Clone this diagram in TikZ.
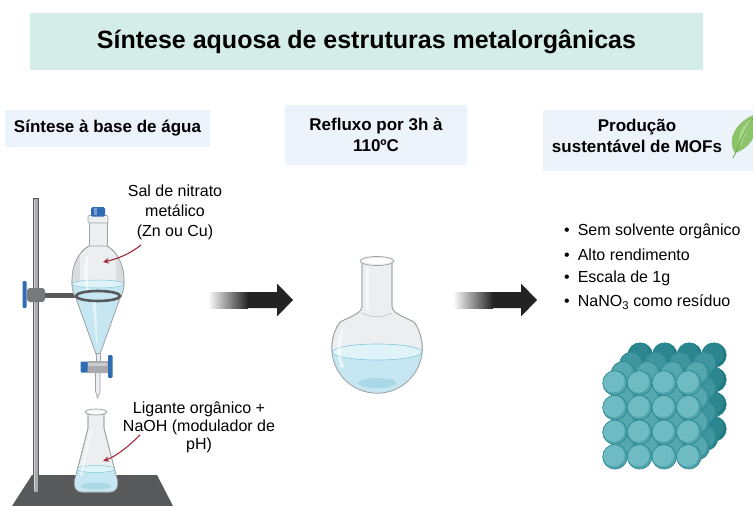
\documentclass[tikz,border=0pt]{standalone}
\usepackage{fontspec}
\setmainfont{Liberation Sans}
\usetikzlibrary{arrows.meta,calc}

\definecolor{titlebg}{HTML}{D5EDE9}
\definecolor{headbg}{HTML}{EDF3FB}
\definecolor{glass}{HTML}{ECEEF0}
\definecolor{glassdark}{HTML}{DADCDE}
\definecolor{glassline}{HTML}{9EA3A8}
\definecolor{liquid}{HTML}{C6E7F1}
\definecolor{liquidtop}{HTML}{E0F3F8}
\definecolor{liquidline}{HTML}{7CC8DD}
\definecolor{liquiddeep}{HTML}{A9D8E6}
\definecolor{capblue}{HTML}{2F6CB3}
\definecolor{steel}{HTML}{58595B}
\definecolor{steellight}{HTML}{77787B}
\definecolor{rodgray}{HTML}{A8AAAD}
\definecolor{pointer}{HTML}{A3293A}
\definecolor{arrowdark}{HTML}{232323}
\definecolor{leafgreen}{HTML}{8DC46B}
\definecolor{leafdark}{HTML}{6CA84D}
\definecolor{leaflight}{HTML}{A9D68A}
\definecolor{mofA}{HTML}{6FBBC3}
\definecolor{mofAd}{HTML}{4FA2AB}
\definecolor{mofB}{HTML}{55A8B0}
\definecolor{mofBd}{HTML}{3F949D}
\definecolor{mofC}{HTML}{3F969E}
\definecolor{mofCd}{HTML}{2C858E}
\definecolor{mofD}{HTML}{2C868F}
\definecolor{mofDd}{HTML}{207A83}
\definecolor{mofline}{HTML}{2A8890}

\begin{document}
\begin{tikzpicture}[x=1pt,y=-1pt,
  titlebox/.style={fill=titlebg, minimum width=673pt, minimum height=57pt, inner sep=0pt,
    font=\fontsize{25}{29}\selectfont\bfseries},
  headbox/.style={fill=headbg, inner sep=0pt},
  headtext/.style={align=center, inner sep=0pt, font=\fontsize{17}{21}\selectfont\bfseries},
  callout/.style={align=center, inner sep=0pt, font=\fontsize{16}{20}\selectfont},
  pointerarrow/.style={draw=pointer, line width=1.1pt, -{Stealth[length=6pt,width=5.5pt]}},
  bulletitem/.style={anchor=west, inner sep=0pt, font=\fontsize{16}{19}\selectfont},
  glassware/.style={fill=glass, draw=glassline, line width=0.7pt},
]
\useasboundingbox (0,0) rectangle (753,506);
\fill[white] (0,0) rectangle (753,506);

% ---------- title and stage headers ----------
\node[titlebox] (title) at (366.5,41.5) {Síntese aquosa de estruturas metalorgânicas};

\node[headbox, minimum width=205pt, minimum height=37pt] (head1) at (107.5,128) {};
\node[headtext] (head1text) at (head1.center) {Síntese à base de água};

\node[headbox, minimum width=182pt, minimum height=60pt] (head2) at (376,135) {};
\node[headtext] (head2text) at (head2.center) {Refluxo por 3h à\\110ºC};

\node[headbox, minimum width=210pt, minimum height=61pt] (head3) at (648,140.5) {};
\node[headtext] (head3text) at (637,136) {Produção\\sustentável de MOFs};

% leaf beside the third header
\begin{scope}
  \fill[leafgreen] (735,153) .. controls (726,140) and (736,121) .. (756,114)
                   .. controls (760,130) and (752,148) .. (735,153) -- cycle;
  \fill[leaflight] (741,146) .. controls (736,136) and (742,124) .. (754,118)
                   .. controls (748,128) and (744,137) .. (741,146) -- cycle;
  \draw[leafdark, line width=0.8pt] (733,158) -- (736,152) .. controls (741,140) and (746,128) .. (755,116);
\end{scope}

% ---------- stage 1: retort stand, separatory funnel, Erlenmeyer ----------
% base plate
\fill[steel] (32,475) -- (157,475) -- (173,506) -- (12,506) -- cycle;
% rod
\fill[rodgray] (33,198) rectangle (38.5,492);
\draw[gray!70!black, line width=0.4pt] (33,198) rectangle (38.5,492);
\fill[white, opacity=0.5] (34.2,200) rectangle (35.3,490);
% clamp arm and boss
\fill[steel] (40,293) rectangle (80,297.5);
\fill[steellight, rounded corners=3pt] (27,288) rectangle (45,302);
\fill[capblue, rounded corners=1.2pt] (22.5,281) rectangle (26.5,308);

% funnel neck, collar and stopper
\path[glassware] (89,222) rectangle (107,248);
\path[glassware, rounded corners=1pt] (88,215.5) rectangle (108,223);
\fill[capblue, rounded corners=1.5pt] (91,207) rectangle (105,216.5);
\fill[white, opacity=0.35] (94,208) rectangle (97,215);

% funnel bulb and cone
\path[glassware] (89,246) .. controls (78,252) and (72,266) .. (72,281)
     .. controls (72,289) and (73,293) .. (76,298) -- (96,354) -- (100,354) -- (120,298)
     .. controls (123,293) and (124,289) .. (124,281)
     .. controls (124,266) and (118,252) .. (107,246) -- cycle;
\begin{scope}
  \clip (89,246) .. controls (78,252) and (72,266) .. (72,281)
     .. controls (72,289) and (73,293) .. (76,298) -- (96,354) -- (100,354) -- (120,298)
     .. controls (123,293) and (124,289) .. (124,281)
     .. controls (124,266) and (118,252) .. (107,246) -- cycle;
  \fill[glassdark] (72,250) rectangle (80,300);
  \fill[glassdark] (116,250) rectangle (125,300);
  \fill[liquid] (60,284) rectangle (130,360);
  \fill[liquidtop] (98,284) ellipse (26 and 4);
  \draw[liquidline, line width=0.5pt] (98,284) ellipse (26 and 4);
  \fill[white, opacity=0.6] (86,256) .. controls (84,266) and (84,278) .. (86,290) -- (89,290)
        .. controls (87,278) and (87,266) .. (89,256) -- cycle;
  \fill[white, opacity=0.5] (92,300) -- (96,300) -- (97.5,345) -- (96.5,345) -- cycle;
\end{scope}
\draw[glassline, line width=0.7pt] (89,246) .. controls (78,252) and (72,266) .. (72,281)
     .. controls (72,289) and (73,293) .. (76,298) -- (96,354) -- (100,354) -- (120,298)
     .. controls (123,293) and (124,289) .. (124,281)
     .. controls (124,266) and (118,252) .. (107,246);

% clamp ring around the funnel
\draw[steel, line width=2.6pt] (98,296) ellipse (22 and 5);

% stopcock and outlet stem
\path[glassware] (96,353) rectangle (100,362);
\path[glassware] (95.5,372) -- (95.5,391) -- (97.5,398) -- (100,392) -- (100,372) -- cycle;
\fill[rodgray, rounded corners=1.5pt] (86,361) rectangle (109,373);
\fill[white, opacity=0.4] (88,363) rectangle (107,366);
\fill[capblue, rounded corners=1.2pt] (80.5,361.5) rectangle (87.5,372.5);
\fill[capblue, rounded corners=1.2pt] (108,355) rectangle (112.5,378);

% Erlenmeyer flask
\path[glassware] (88,412) -- (88,428) -- (75,479) .. controls (73,488) and (76,492) .. (83,492)
     -- (109,492) .. controls (116,492) and (119,488) .. (117,479) -- (104,428) -- (104,412) -- cycle;
\begin{scope}
  \clip (88,412) -- (88,428) -- (75,479) .. controls (73,488) and (76,492) .. (83,492)
     -- (109,492) .. controls (116,492) and (119,488) .. (117,479) -- (104,428) -- (104,412) -- cycle;
  \fill[liquid] (60,469) rectangle (130,500);
  \fill[liquidtop] (96,469) ellipse (19 and 3.5);
  \draw[liquidline, line width=0.5pt] (96,469) ellipse (19 and 3.5);
  \fill[liquiddeep] (96,486) ellipse (15 and 3.5);
  \fill[white, opacity=0.6] (90,430) -- (92,430) -- (82,476) -- (80,476) -- cycle;
\end{scope}
\draw[glassline, line width=0.7pt] (88,412) -- (88,428) -- (75,479) .. controls (73,488) and (76,492) .. (83,492)
     -- (109,492) .. controls (116,492) and (119,488) .. (117,479) -- (104,428) -- (104,412);
\path[glassware] (96,412) ellipse (11 and 3);
\path[fill=white] (96,412) ellipse (8 and 1.8);

% callouts for the two reagents
\node[callout] (salt) at (175,212) {Sal de nitrato\\metálico\\(Zn ou Cu)};
\coordinate (saltFrom) at (141,245);
\coordinate (saltTo) at (103,262);
\draw[pointerarrow] (saltFrom) .. controls (130,254) and (117,259) .. (saltTo);

\node[callout, font=\fontsize{16}{18}\selectfont] (ligand) at (199,427) {Ligante orgânico +\\NaOH (modulador de\\pH)};
\coordinate (ligandFrom) at (140,435);
\coordinate (ligandTo) at (103,461);
\draw[pointerarrow] (ligandFrom) .. controls (130,445) and (117,456) .. (ligandTo);

% ---------- process arrows ----------
\coordinate (arrowOneTail) at (208,300);
\coordinate (arrowOneTip) at (293,300);
\shade[left color=white, right color=arrowdark] (208,292) rectangle (248,308);
\fill[arrowdark] (247.5,292) -- (277,292) -- (277,283.5) -- (293,300) -- (277,316.5) -- (277,308) -- (247.5,308) -- cycle;

\coordinate (arrowTwoTail) at (453,300);
\coordinate (arrowTwoTip) at (537,300);
\shade[left color=white, right color=arrowdark] (453,292) rectangle (493,308);
\fill[arrowdark] (492.5,292) -- (521,292) -- (521,283.5) -- (537,300) -- (521,316.5) -- (521,308) -- (492.5,308) -- cycle;

% ---------- stage 2: round-bottom flask under reflux ----------
\path[glassware] (362,262) -- (362,306) .. controls (362,313) and (352,316) .. (340,322)
     arc[start angle=215, end angle=-35, radius=45.22]
     .. controls (402,316) and (392,313) .. (392,306) -- (392,262) -- cycle;
\begin{scope}
  \clip (377,348) circle (45.1);
  \fill[liquid] (325,352) rectangle (430,400);
  \fill[liquidtop] (377,352) ellipse (45 and 8);
  \draw[liquidline, line width=0.6pt] (377,352) ellipse (45 and 8);
  \fill[liquiddeep] (377,383) ellipse (19 and 5);
  \fill[white, opacity=0.55] (341,330) .. controls (336,340) and (336,356) .. (341,368)
        -- (344,367) .. controls (340,356) and (340,341) .. (344,331) -- cycle;
\end{scope}
\draw[glassline, line width=0.7pt] (362,262) -- (362,306) .. controls (362,313) and (352,316) .. (340,322)
     arc[start angle=215, end angle=-35, radius=45.22]
     .. controls (402,316) and (392,313) .. (392,306) -- (392,262);
\fill[white, opacity=0.6] (366,268) rectangle (369,310);
\draw[glassline!70, line width=0.5pt] (362,313) .. controls (370,318) and (384,318) .. (392,313);
\path[glassware] (377,261) ellipse (17 and 4.5);
\path[fill=white] (377,261) ellipse (14 and 2.8);

% ---------- stage 3: outcomes and framework crystal ----------
\node[bulletitem] (item1) at (564,231) {\textbullet\hspace{8pt}Sem solvente orgânico};
\node[bulletitem] (item2) at (564,254.5) {\textbullet\hspace{8pt}Alto rendimento};
\node[bulletitem] (item3) at (564,278) {\textbullet\hspace{8pt}Escala de 1g};
\node[bulletitem] (item4) at (564,302) {\textbullet\hspace{8pt}NaNO\textsubscript{3} como resíduo};

% packed spheres, back layer first
\foreach \k/\fc/\dc in {3/mofD/mofDd, 2/mofC/mofCd, 1/mofB/mofBd, 0/mofA/mofAd}{
  \foreach \i in {0,...,3}{
    \foreach \j in {0,...,3}{
      \pgfmathsetmacro{\cx}{615+24.6*\i+8.4*\k}
      \pgfmathsetmacro{\cy}{383+24.6*\j-9.3*\k}
      \fill[\dc] (\cx,\cy) circle (12.3);
      \fill[\fc] (\cx-1.2,\cy-1.2) circle (10.9);
      \draw[mofline, line width=0.6pt] (\cx,\cy) circle (12.3);
    }
  }
}
\end{tikzpicture}
\end{document}
